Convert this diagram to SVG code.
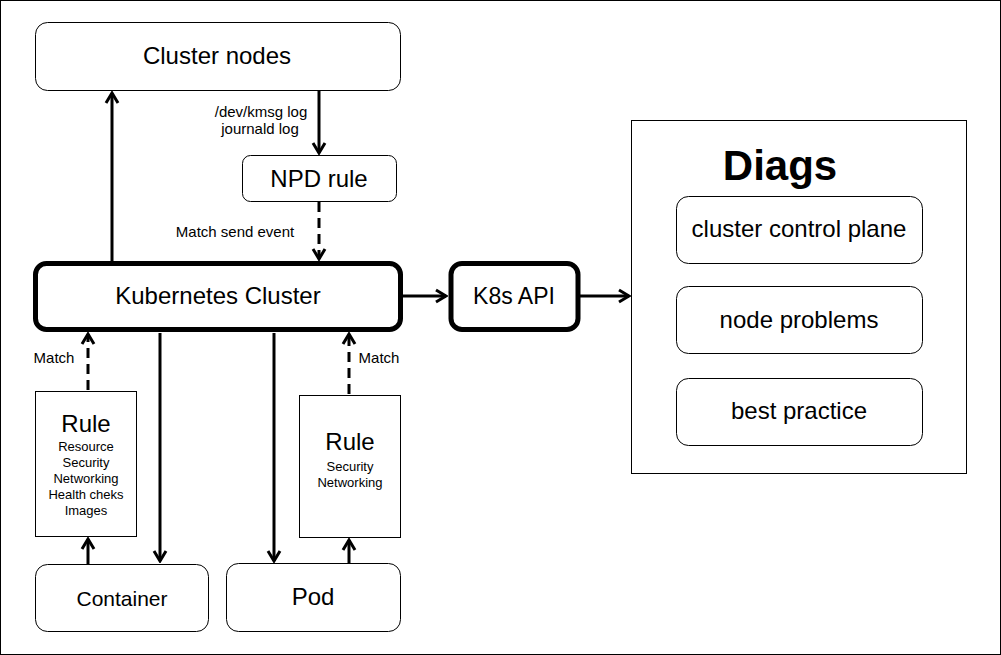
<svg xmlns="http://www.w3.org/2000/svg" width="1001" height="655" viewBox="0 0 1001 655">
<defs>
<marker id="arr" viewBox="-12 -8 14 16" refX="0" refY="0" markerWidth="14" markerHeight="16" markerUnits="userSpaceOnUse" orient="auto">
<path d="M -10 -6 L 0 0 L -10 6" fill="none" stroke="#000" stroke-width="3"/>
</marker>
<style>
text{font-family:"Liberation Sans",Arial,sans-serif;fill:#000;text-anchor:middle}
.box{fill:#fff;stroke:#000;stroke-width:1}
.bold{fill:#fff;stroke:#000;stroke-width:5}
.t24{font-size:24px}
.t15{font-size:15px}
.t13{font-size:13px}
.ln{fill:none;stroke:#000;stroke-width:3;marker-end:url(#arr)}
.dash{stroke-dasharray:10 6}
</style>
</defs>
<rect x="0.5" y="0.5" width="1000" height="654" fill="#fff" stroke="#000" stroke-width="1"/>

<g id="connectors">
<line class="ln" x1="319" y1="90" x2="319" y2="153"/>
<line class="ln dash" x1="319" y1="202" x2="319" y2="259"/>
<line class="ln" x1="112" y1="261" x2="112" y2="93"/>
<line class="ln" x1="402" y1="296" x2="446" y2="296"/>
<line class="ln" x1="580" y1="296" x2="629" y2="296"/>
<line class="ln dash" x1="88" y1="390" x2="88" y2="334"/>
<line class="ln dash" x1="349" y1="394" x2="349" y2="334"/>
<line class="ln" x1="160" y1="333" x2="160" y2="561"/>
<line class="ln" x1="274" y1="333" x2="274" y2="561"/>
<line class="ln" x1="88" y1="564" x2="88" y2="539"/>
<line class="ln" x1="349" y1="563" x2="349" y2="540"/>
<text class="t15" x="261" y="117">/dev/kmsg log</text>
<text class="t15" x="260" y="134">journald log</text>
<text class="t15" x="235" y="237">Match send event</text>
<text class="t15" x="54" y="363">Match</text>
<text class="t15" x="379" y="363">Match</text>
</g>

<g id="cluster-nodes">
<rect class="box" x="35.5" y="22.5" width="365" height="68" rx="12"/>
<text class="t24" x="217" y="64">Cluster nodes</text>
</g>

<g id="npd-rule">
<rect class="box" x="242.5" y="155.5" width="154" height="46" rx="8"/>
<text class="t24" x="319" y="187">NPD rule</text>
</g>

<g id="kubernetes-cluster">
<rect class="bold" x="35.5" y="263.5" width="365" height="66" rx="11"/>
<text class="t24" x="218" y="304">Kubernetes Cluster</text>
</g>

<g id="k8s-api">
<rect class="bold" x="451" y="263.5" width="127" height="66" rx="11"/>
<text class="t24" x="514" y="304" style="font-size:23px">K8s API</text>
</g>

<g id="diags">
<rect class="box" x="631.5" y="120.5" width="335" height="353"/>
<text x="780" y="180" style="font-size:42px;font-weight:bold">Diags</text>
</g>

<g id="cluster-control-plane">
<rect class="box" x="676.5" y="196.5" width="246" height="67" rx="12"/>
<text class="t24" x="799" y="237">cluster control plane</text>
</g>

<g id="node-problems">
<rect class="box" x="676.5" y="286.5" width="246" height="67" rx="12"/>
<text class="t24" x="799" y="328">node problems</text>
</g>

<g id="best-practice">
<rect class="box" x="676.5" y="378.5" width="246" height="67" rx="12"/>
<text class="t24" x="799" y="419">best practice</text>
</g>

<g id="rule-container">
<rect class="box" x="35.5" y="391.5" width="101" height="145"/>
<text class="t24" x="86" y="432">Rule</text>
<text class="t13" x="86" y="451">Resource</text>
<text class="t13" x="86" y="467">Security</text>
<text class="t13" x="86" y="483">Networking</text>
<text class="t13" x="86" y="499">Health cheks</text>
<text class="t13" x="86" y="515">Images</text>
</g>

<g id="rule-pod">
<rect class="box" x="299.5" y="395.5" width="101" height="142"/>
<text class="t24" x="350" y="450">Rule</text>
<text class="t13" x="350" y="471">Security</text>
<text class="t13" x="350" y="487">Networking</text>
</g>

<g id="container">
<rect class="box" x="35.5" y="564.5" width="173" height="67" rx="12"/>
<text class="t24" x="122" y="606" style="font-size:21px">Container</text>
</g>

<g id="pod">
<rect class="box" x="226.5" y="563.5" width="174" height="68" rx="12"/>
<text class="t24" x="313" y="605">Pod</text>
</g>
</svg>
